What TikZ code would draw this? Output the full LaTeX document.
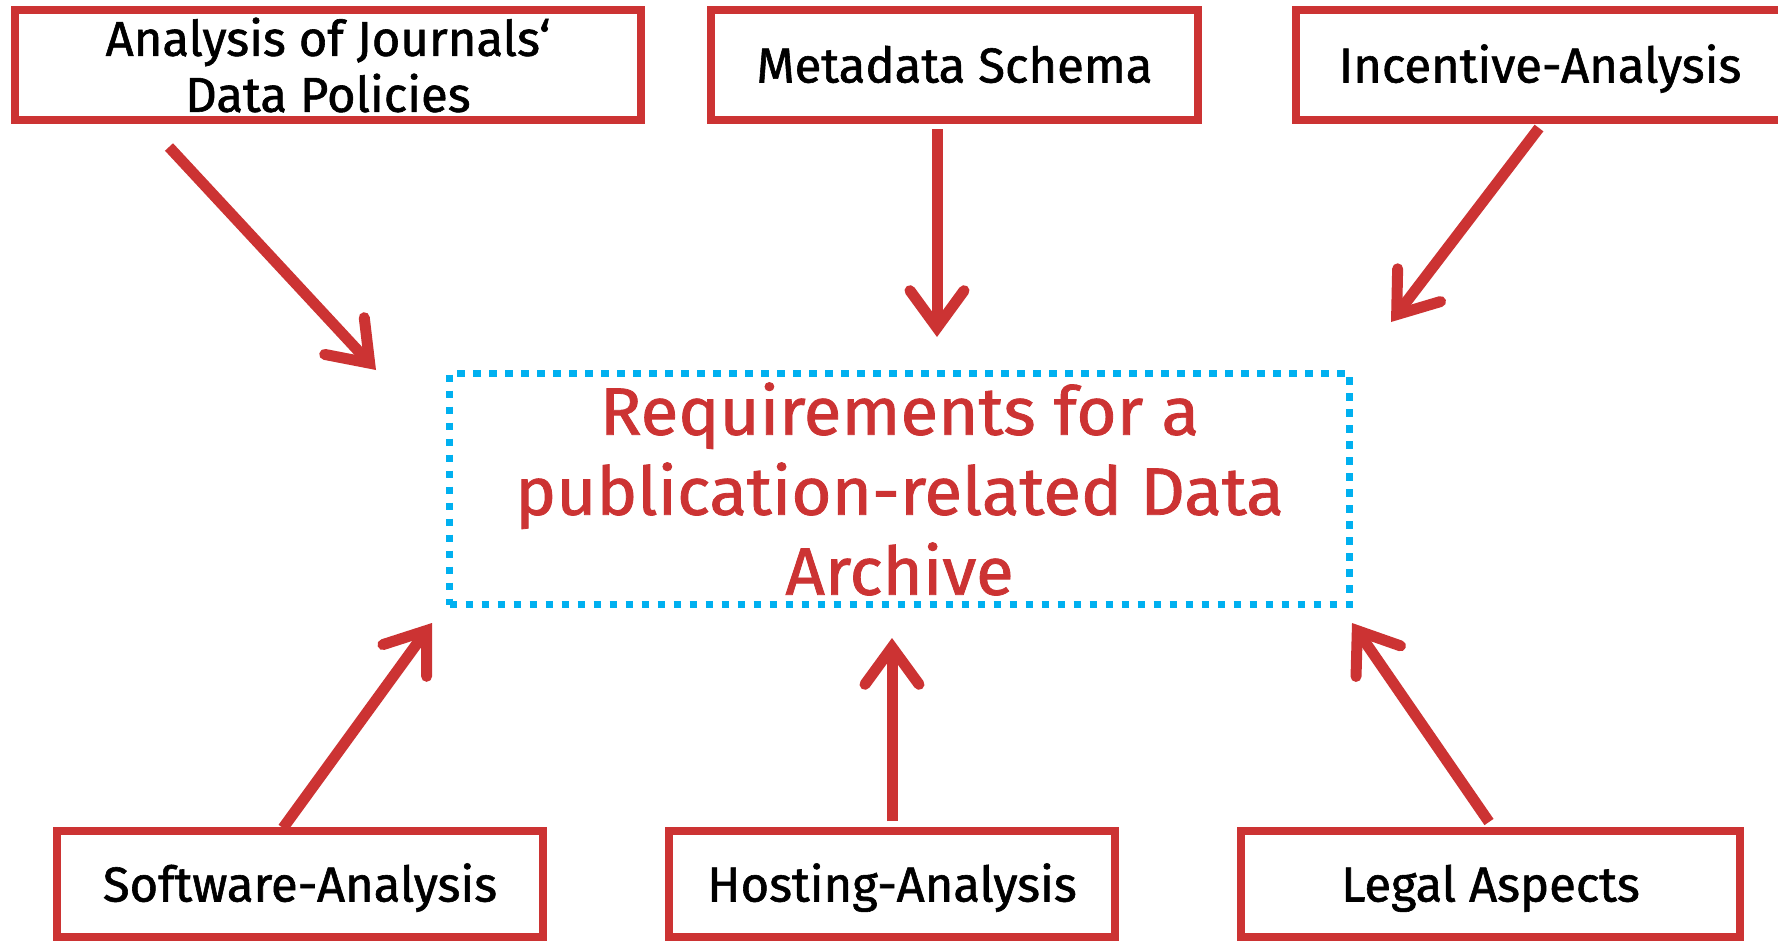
\documentclass[tikz,border=0pt]{standalone}
\usepackage{fontspec}
\setmainfont{Fira Sans}[FakeBold=1.2]
\newfontfamily\goalfont{Fira Sans}[FakeBold=1.2, FakeStretch=1.03]
\usetikzlibrary{arrows.meta}
\definecolor{boxred}{RGB}{204,51,51}
\definecolor{dotblue}{RGB}{0,176,240}
\begin{document}
\begin{tikzpicture}[x=1pt,y=-1pt,
  srcbox/.style={draw=boxred, line width=7.5pt, inner sep=0pt, minimum height=110pt,
    align=center, text=black, font=\fontsize{49}{56}\selectfont},
  oneline/.style={srcbox, text height=35pt, text depth=0pt},
  goalbox/.style={draw=dotblue, line width=7.5pt, dash pattern=on 7.5pt off 8.5pt,
    minimum width=900pt, minimum height=231pt, inner sep=0pt, align=center,
    text=boxred, font=\goalfont\fontsize{67}{80}\selectfont},
  feed/.style={draw=boxred, line width=11pt,
    -{Straight Barb[length=37pt, width=54pt, round, line join=miter]}}]
\useasboundingbox (0,0) rectangle (1778,942);
\fill[white] (0,0) rectangle (1778,942);

\node[srcbox, minimum width=626pt] (journ) at (328,65) {Analysis of Journals‘\\Data Policies};
\node[oneline, minimum width=487pt] (meta) at (954.5,65) {Metadata Schema};
\node[oneline, minimum width=488pt] (incent) at (1540,65) {Incentive-Analysis};
\node[oneline, minimum width=486pt, minimum height=106pt] (soft) at (300,884) {Software-Analysis};
\node[oneline, minimum width=446pt, minimum height=106pt] (host) at (892,884) {Hosting-Analysis};
\node[oneline, minimum width=499pt, minimum height=106pt] (legal) at (1490.5,884) {Legal Aspects};

\node[goalbox] (req) at (899.5,489) {Requirements for a\\publication-related Data\\Archive};

\coordinate (j1) at (169,147);  \coordinate (j2) at (376,370);
\coordinate (m1) at (937,129);  \coordinate (m2) at (937,337);
\coordinate (i1) at (1539,128); \coordinate (i2) at (1391,322);
\coordinate (s1) at (283,828);  \coordinate (s2) at (432,623);
\coordinate (h1) at (892,821);  \coordinate (h2) at (892,638);
\coordinate (l1) at (1489,822); \coordinate (l2) at (1352,623);

\draw[feed] (j1) -- (j2);
\draw[feed] (m1) -- (m2);
\draw[feed] (i1) -- (i2);
\draw[feed] (s1) -- (s2);
\draw[feed] (h1) -- (h2);
\draw[feed] (l1) -- (l2);
\end{tikzpicture}
\end{document}
